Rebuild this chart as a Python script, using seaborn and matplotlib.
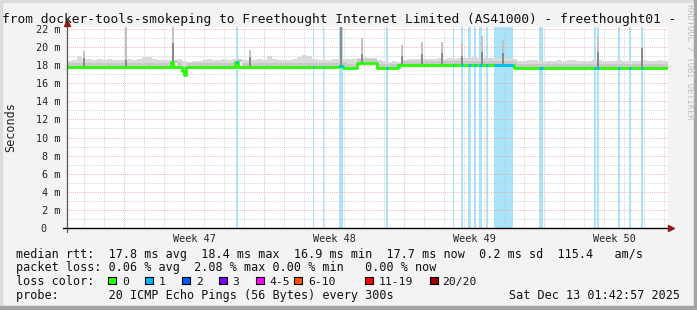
import numpy as np
import matplotlib
matplotlib.use("Agg")
import matplotlib.pyplot as plt
import seaborn as sns
from matplotlib.patches import Rectangle
from matplotlib.transforms import ScaledTranslation

# ---------------- data ----------------
title = "from docker-tools-smokeping to Freethought Internet Limited (AS41000) - freethought01 -"
week_labels = ["Week 47", "Week 48", "Week 49", "Week 50"]
week_start_days = [2.85, 9.85, 16.85, 23.85]      # Monday 00:00, days since graph start
x_end_days = 30.05
y_max = 22.22
y_ticks = [0, 2, 4, 6, 8, 10, 12, 14, 16, 18, 20, 22]
y_tick_labels = ["0", "2 m", "4 m", "6 m", "8 m", "10 m", "12 m", "14 m",
                 "16 m", "18 m", "20 m", "22 m"]

# median rtt (ms), step function: value holds from med_t[i] to med_t[i+1]
med_t = [0.0, 5.2, 5.3, 5.75, 5.85, 5.95, 8.4, 8.55, 13.6, 13.8, 14.5, 15.5,
         16.55, 22.35, 26.3, 28.2, 30.05]
med_v = [17.75, 18.35, 17.85, 17.4, 16.95, 17.75, 18.4, 17.75, 17.9, 17.7, 18.2,
         17.7, 18.0, 17.72, 17.65, 17.72, 17.72]

# smoke upper envelope (ms), every 0.25 day
smoke_hi = [18.5, 18.6, 19.0, 18.7, 18.7, 18.6, 18.7, 18.6, 18.7, 18.6,
            18.55, 18.6, 18.7, 18.6, 18.7, 18.85, 18.9, 18.7, 18.6, 18.55,
            18.6, 18.6, 18.7, 18.5, 18.4, 18.45, 18.5, 18.6, 18.65, 18.55,
            18.6, 18.7, 18.6, 18.65, 18.7, 18.6, 18.55, 18.6, 18.7, 18.6,
            19.0, 18.7, 18.6, 18.55, 18.6, 18.7, 18.9, 19.1, 19.0, 18.7,
            18.6, 18.55, 18.6, 18.65, 18.7, 18.7, 18.65, 18.7, 18.8, 18.85,
            18.8, 18.8, 18.6, 18.45, 18.4, 18.45, 18.4, 18.6, 18.65, 18.7,
            18.65, 18.7, 18.65, 18.7, 18.75, 18.7, 18.75, 18.7, 18.8, 18.75,
            18.8, 18.85, 18.8, 18.75, 18.8, 18.8, 18.7, 18.75, 18.7, 18.65,
            18.5, 18.45, 18.55, 18.55, 18.45, 18.5, 18.45, 18.5, 18.55, 18.5,
            18.6, 18.6, 18.45, 18.5, 18.45, 18.55, 18.6, 18.5, 18.45, 18.5,
            18.55, 18.45, 18.5, 18.45, 18.5, 18.6, 18.5, 18.45, 18.55, 18.5,
            18.5]
smoke_step = 0.25

# smoke spikes (single slow samples)
spike_t = [0.85, 2.95, 5.3, 9.15, 13.7, 14.75, 16.75, 17.75, 18.75, 19.75,
           20.75, 21.8, 26.55, 28.75]
spike_top = [19.6, 22.2, 22.2, 19.7, 22.2, 21.0, 20.2, 20.6, 20.6, 20.4,
             21.2, 20.8, 21.2, 19.9]
spike_dark = [18.8, 18.6, 20.5, 18.9, 22.2, 19.2, 19.0, 19.2, 19.3, 19.0,
              19.5, 19.3, 19.5, 19.9]

# packet-loss periods (1/20 lost)
loss_start = [8.45, 12.3, 12.8, 13.6, 15.95, 19.3, 19.7, 20.05, 20.35, 20.6,
              20.95, 21.35, 23.6, 26.35, 26.5, 27.55, 28.1, 28.7]
loss_width = [0.1, 0.05, 0.05, 0.2, 0.1, 0.05, 0.1, 0.15, 0.1, 0.15,
              0.1, 0.95, 0.2, 0.1, 0.1, 0.08, 0.1, 0.1]

legend_rows = [
    "median rtt:  17.8 ms avg  18.4 ms max  16.9 ms min  17.7 ms now  0.2 ms sd  115.4   am/s",
    "packet loss: 0.06 % avg  2.08 % max 0.00 % min   0.00 % now",
    "loss color:",
    "probe:       20 ICMP Echo Pings (56 Bytes) every 300s",
]
loss_labels = ["0", "1", "2", "3", "4-5", "6-10", "11-19", "20/20"]
loss_colors = ["#26ff00", "#00b8ff", "#0059ff", "#7e00ff", "#ff00ff",
               "#ff5500", "#ff0000", "#a10000"]
timestamp = "Sat Dec 13 01:42:57 2025"

# ---------------- style ----------------
sns.set_style("white")
plt.rcParams["font.family"] = ["DejaVu Sans Mono"]
MONO = "DejaVu Sans Mono"

W, H = 697, 310
fig = plt.figure(figsize=(W / 100, H / 100), dpi=100, facecolor="#f3f3f3")

# frame of the image
fig.patches.append(Rectangle((0, 0), 2 / W, 1, transform=fig.transFigure,
                             color="#dcdcdc", zorder=0))
fig.patches.append(Rectangle((0, 1 - 2 / H), 1, 2 / H, transform=fig.transFigure,
                             color="#dcdcdc", zorder=0))
fig.patches.append(Rectangle((1 - 3 / W, 0), 3 / W, 1, transform=fig.transFigure,
                             color="#a4a4a4", zorder=0))
fig.patches.append(Rectangle((0, 0), 1, 4 / H, transform=fig.transFigure,
                             color="#a4a4a4", zorder=0))

L, R, T, B = 67, 668, 27, 228
ax = fig.add_axes([L / W, (H - B) / H, (R - L) / W, (B - T) / H])
ax.set_facecolor("white")
ax.set_xlim(0, x_end_days)
ax.set_ylim(0, y_max)
for s in ax.spines.values():
    s.set_visible(False)

# loss background bars
for s0, w in zip(loss_start, loss_width):
    ax.axvspan(s0, s0 + w, color="#a9e4fb", lw=0, zorder=1)

# grid
dot = (0, (1, 1.3))
grey_grid = "#c8c8c8"
red_grid = "#f0a0a0"
for k in range(1, 23):
    if k % 2 == 1:
        ax.axhline(k, color=grey_grid, lw=0.6, ls=dot, zorder=1.5)
    else:
        ax.axhline(k, color=red_grid, lw=0.6, ls=dot, zorder=1.6)
day = week_start_days[0] - 2.0
while day < x_end_days:
    if not any(abs(day - w0) < 1e-6 for w0 in week_start_days):
        ax.axvline(day, color=grey_grid, lw=0.6, ls=dot, zorder=1.5)
    day += 1.0
for w0 in week_start_days:
    ax.axvline(w0, color=red_grid, lw=0.6, ls=dot, zorder=1.6)

# helper: median value at given times (step lookup)
med_t_arr = np.array(med_t)
med_v_arr = np.array(med_v)


def med_at(t):
    idx = np.clip(np.searchsorted(med_t_arr, t, side="right") - 1, 0, len(med_v_arr) - 1)
    return med_v_arr[idx]


# smoke
st = np.arange(len(smoke_hi)) * smoke_step
edges = np.append(st, x_end_days)
hi = np.append(smoke_hi, smoke_hi[-1])
lo = med_at(edges) - 0.08
ax.fill_between(edges, lo, hi, step="post", color="#dadada", lw=0, zorder=2)
ax.fill_between(edges, lo, np.minimum(hi, med_at(edges) + 0.45), step="post",
                color="#c8c8c8", lw=0, zorder=2.1)

# spikes
sb = med_at(np.array(spike_t))
ax.bar(spike_t, np.array(spike_top) - sb, bottom=sb, width=0.1,
       color="#c2c2c2", lw=0, zorder=2.2)
ax.bar(spike_t, np.array(spike_dark) - sb, bottom=sb, width=0.1,
       color="#8a8a8a", lw=0, zorder=2.3)

# median line (green = no loss)
sns.lineplot(x=med_t, y=med_v, drawstyle="steps-post", color="#26ff00",
             lw=2.0, estimator=None, sort=False, ax=ax, zorder=3)
# blue where 1 ping lost
for s0, w in zip(loss_start, loss_width):
    v = med_at(s0 + w / 2)
    ax.hlines(v, s0, s0 + w, color="#00b8ff", lw=2.0, zorder=3.2)

# axes lines and arrows
ax.plot([0, 0], [-4 / (B - T), 1 + 5 / (B - T)], transform=ax.transAxes,
        color="#555555", lw=0.9, clip_on=False, zorder=4)
ax.plot([-4 / (R - L), 1 + 1 / (R - L)], [0, 0], transform=ax.transAxes,
        color="black", lw=1.0, clip_on=False, zorder=4)
ax.plot([0], [1 + 3.5 / (B - T)], marker="^", ms=5, color="#8b1a1a",
        transform=ax.transAxes, clip_on=False, zorder=5)
ax.plot([1 + 3 / (R - L)], [0], marker=">", ms=5, color="#8b1a1a",
        transform=ax.transAxes, clip_on=False, zorder=5)

# ticks
ax.set_xticks([w0 + 3.5 for w0 in week_start_days])
ax.set_xticklabels(week_labels, family=MONO, fontsize=7.3)
ax.set_yticks(y_ticks)
ax.set_yticklabels(y_tick_labels, family=MONO, fontsize=7.3)
ax.tick_params(axis="both", length=0, colors="#222222")
ax.tick_params(axis="x", pad=4)
ax.tick_params(axis="y", pad=5)
ax.set_xlabel("")
ax.set_ylabel("Seconds", family=MONO, fontsize=8.5, color="#222222")
ax.yaxis.set_label_coords(-(L - 17) / (R - L), 0.5)
for tk in ax.yaxis.get_major_ticks():
    if tk.label1.get_text() == "0":
        tk.label1.set_transform(tk.label1.get_transform() +
                                ScaledTranslation(-0.14, 0, fig.dpi_scale_trans))

# title and side text
fig.text(2 / W, 1 - 23.3 / H, title, family=MONO, fontsize=9.3, color="#111111",
         ha="left", va="baseline")
fig.text(690 / W, 1 - 62 / H, "RRDTOOL / TOBI OETIKER", family=MONO, fontsize=6.3,
         color="#bdbdbd", rotation=270, ha="center", va="center")

# legend
row_base = [257.7, 271.5, 285.3, 299.0]
for txt, yb in zip(legend_rows, row_base):
    fig.text(16 / W, 1 - yb / H, txt, family=MONO, fontsize=8.5, color="#111111",
             ha="left", va="baseline")
box_x = [108, 145, 182, 219, 256, 294, 365, 430]
lab_x = [122, 159, 196, 232, 269, 308, 379, 442]
for bx, lx, lab, col in zip(box_x, lab_x, loss_labels, loss_colors):
    fig.patches.append(Rectangle((bx / W, 1 - 284 / H), 7.5 / W, 7.5 / H,
                                 transform=fig.transFigure, facecolor=col,
                                 edgecolor="black", lw=0.8, zorder=3))
    fig.text(lx / W, 1 - 285.3 / H, lab, family=MONO, fontsize=8.2,
             color="#111111", ha="left", va="baseline")
fig.text(680 / W, 1 - 299.0 / H, timestamp, family=MONO, fontsize=8.5,
         color="#111111", ha="right", va="baseline")

fig.savefig("out.png", dpi=100, facecolor=fig.get_facecolor())
